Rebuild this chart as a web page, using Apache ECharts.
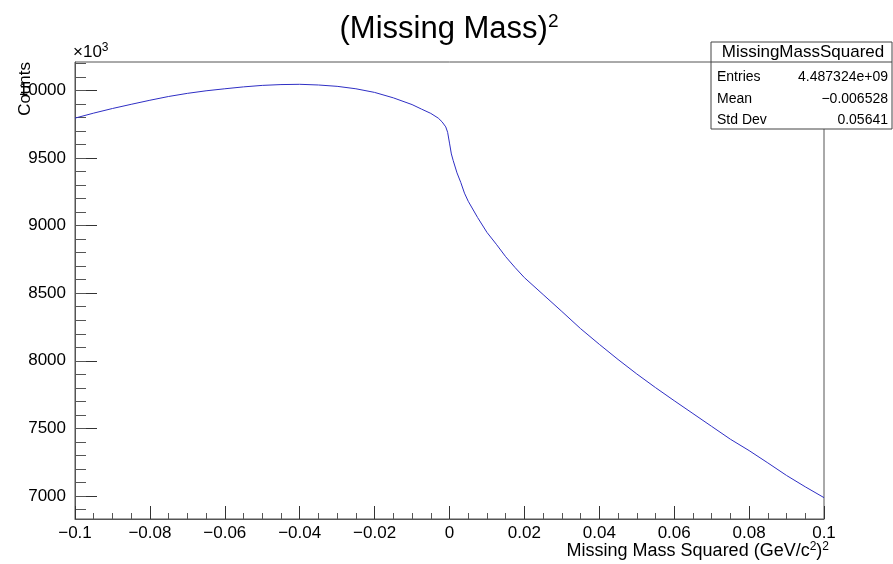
<!DOCTYPE html>
<html>
    <head>
        <meta charset="utf-8">
        <script src="https://cdn.jsdelivr.net/npm/echarts@6/dist/echarts.min.js"></script>
        <style>
            body { margin: 0; background: #fff; }
        </style>
    </head>

    <body>
    <div id="chart" style="width: 893px;height:564px;"></div>
    </body>
    <script>
        // bin centre (GeV/c^2)^2
        let massSq = [
            -0.100, -0.095, -0.090, -0.085, -0.080, -0.075, -0.070, -0.065, -0.060, -0.055,
            -0.050, -0.045, -0.040, -0.035, -0.030, -0.025, -0.020, -0.015, -0.010, -0.0075,
            -0.005, -0.003, -0.002, -0.001, -0.0005, 0.000, 0.0005, 0.001, 0.002, 0.003,
            0.004, 0.005, 0.0075, 0.010, 0.0125, 0.015, 0.0175, 0.020, 0.025, 0.030,
            0.035, 0.040, 0.045, 0.050, 0.055, 0.060, 0.065, 0.070, 0.075, 0.080,
            0.085, 0.090, 0.095, 0.100
        ];
        // counts in units of 10^3
        let counts = [
            9795, 9832, 9866, 9897, 9927, 9955, 9978, 9997, 10012, 10026,
            10037, 10043, 10045, 10040, 10030, 10012, 9985, 9945, 9895, 9862,
            9830, 9795, 9768, 9730, 9690, 9610, 9530, 9480, 9390, 9320,
            9240, 9180, 9060, 8950, 8862, 8770, 8690, 8615, 8490, 8365,
            8238, 8122, 8010, 7903, 7802, 7705, 7610, 7515, 7420, 7336,
            7245, 7152, 7068, 6988
        ];
        let yTicks = [7000, 7500, 8000, 8500, 9000, 9500, 10000];
        let yMinorTicks = [];
        for (let v = 6900; v <= 10200; v += 100) yMinorTicks.push(v);

        let font = 'Liberation Sans, Arial, sans-serif';
        let axisColor = '#555';
        let lineColor = '#2e2ec4';

        let histData = massSq.map(function (x, i) { return [x, counts[i]]; });

        let option = {
            animation: false,
            grid: {
                left: 75, right: 69, top: 62, bottom: 45,
                show: true, borderColor: axisColor, borderWidth: 1,
                backgroundColor: 'transparent'
            },
            xAxis: {
                type: 'value',
                min: -0.1, max: 0.1, interval: 0.02,
                axisLine: {show: true, onZero: false, lineStyle: {color: axisColor}},
                axisTick: {show: true, inside: true, length: 13, lineStyle: {color: '#333'}},
                minorTick: {show: true, splitNumber: 4, length: 6, lineStyle: {color: '#555'}},
                splitLine: {show: false},
                axisLabel: {
                    fontSize: 17, color: '#000', fontFamily: font, margin: 6,
                    formatter: function (v) {
                        return String(+v.toFixed(3)).replace('-', '\u2212');
                    }
                }
            },
            yAxis: [
                {
                    type: 'value', min: 6830, max: 10210,
                    axisLine: {show: true, onZero: false, lineStyle: {color: axisColor}},
                    axisTick: {show: true, inside: true, length: 22, customValues: yTicks,
                               lineStyle: {color: '#333'}},
                    axisLabel: {customValues: yTicks, fontSize: 17, color: '#000',
                                fontFamily: font, margin: 9,
                                formatter: function (v) { return String(v); }},
                    splitLine: {show: false}
                },
                {
                    type: 'value', min: 6830, max: 10210, position: 'left',
                    axisLine: {show: false, onZero: false},
                    axisTick: {show: true, inside: true, length: 11, customValues: yMinorTicks,
                               lineStyle: {color: '#555'}},
                    axisLabel: {show: false},
                    splitLine: {show: false}
                }
            ],
            series: [
                {
                    type: 'line',
                    data: histData,
                    showSymbol: false,
                    lineStyle: {color: lineColor, width: 1},
                    clip: true
                }
            ],
            graphic: [
                {
                    type: 'text', x: 449, y: 29,
                    style: {
                        text: '(Missing Mass){s|2}',
                        font: '31px ' + font, fill: '#000',
                        align: 'center', verticalAlign: 'middle',
                        rich: {s: {fontSize: 19, fontFamily: font, padding: [0, 0, 14, 0]}}
                    }
                },
                {
                    type: 'text', x: 25, y: 62, rotation: Math.PI / 2,
                    style: {
                        text: 'Counts', font: '17px ' + font, fill: '#000',
                        align: 'right', verticalAlign: 'middle'
                    }
                },
                {
                    type: 'text', x: 73, y: 52,
                    style: {
                        text: '\u00d710{s|3}', font: '17px ' + font, fill: '#000',
                        align: 'left', verticalAlign: 'middle',
                        rich: {s: {fontSize: 12, fontFamily: font, padding: [0, 0, 8, 0]}}
                    }
                },
                {
                    type: 'text', x: 829, y: 551,
                    style: {
                        text: 'Missing Mass Squared (GeV/c{s|2}){s|2}',
                        font: '18px ' + font, fill: '#000',
                        align: 'right', verticalAlign: 'middle',
                        rich: {s: {fontSize: 12, fontFamily: font, padding: [0, 0, 9, 0]}}
                    }
                },
                {
                    type: 'group', z: 100,
                    children: [
                        {type: 'rect', shape: {x: 711, y: 42, width: 181, height: 87},
                         style: {fill: '#fff', stroke: '#444', lineWidth: 1}},
                        {type: 'line', shape: {x1: 711, y1: 62, x2: 892, y2: 62},
                         style: {stroke: '#444', lineWidth: 1}},
                        {type: 'text', x: 803, y: 52,
                         style: {text: 'MissingMassSquared', font: '17px ' + font, fill: '#000',
                                 align: 'center', verticalAlign: 'middle'}},
                        {type: 'text', x: 717, y: 77,
                         style: {text: 'Entries', font: '14px ' + font, fill: '#000',
                                 align: 'left', verticalAlign: 'middle'}},
                        {type: 'text', x: 888, y: 77,
                         style: {text: '4.487324e+09', font: '14px ' + font, fill: '#000',
                                 align: 'right', verticalAlign: 'middle'}},
                        {type: 'text', x: 717, y: 99,
                         style: {text: 'Mean', font: '14px ' + font, fill: '#000',
                                 align: 'left', verticalAlign: 'middle'}},
                        {type: 'text', x: 888, y: 99,
                         style: {text: '\u22120.006528', font: '14px ' + font, fill: '#000',
                                 align: 'right', verticalAlign: 'middle'}},
                        {type: 'text', x: 717, y: 120,
                         style: {text: 'Std Dev', font: '14px ' + font, fill: '#000',
                                 align: 'left', verticalAlign: 'middle'}},
                        {type: 'text', x: 888, y: 120,
                         style: {text: '0.05641', font: '14px ' + font, fill: '#000',
                                 align: 'right', verticalAlign: 'middle'}}
                    ]
                }
            ]
        };
        let myChart = echarts.init(document.getElementById('chart'));
        myChart.setOption(option);
    </script>
</html>
